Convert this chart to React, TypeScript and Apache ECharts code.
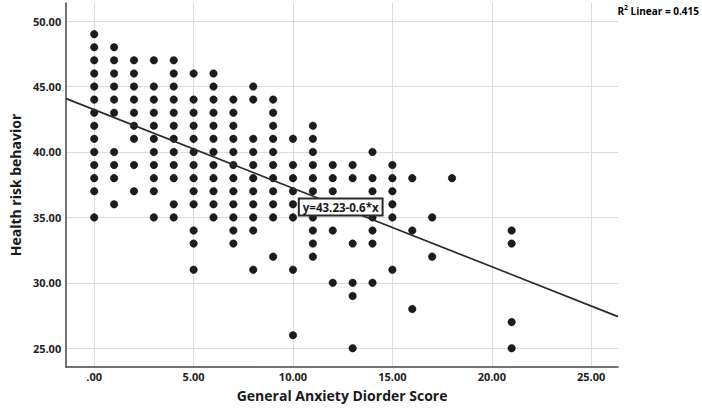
import React, { useEffect, useRef } from "react";
import * as echarts from "echarts";

// GAD score (x) -> list of Health risk behavior values (y) observed at that score
const gadScores = [0, 1, 2, 3, 4, 5, 6, 7, 8, 9, 10, 11, 12, 13, 14, 15, 16, 17, 18, 21];
const hrb0 = [49, 48, 47, 46, 45, 44, 43, 42, 41, 40, 39, 38, 37, 35];
const hrb1 = [48, 47, 46, 45, 44, 43, 40, 39, 38, 36];
const hrb2 = [47, 46, 45, 44, 43, 42, 41, 39, 37];
const hrb3 = [47, 45, 44, 43, 42, 41, 40, 39, 38, 37, 35];
const hrb4 = [47, 46, 45, 44, 43, 42, 41, 40, 39, 38, 36, 35];
const hrb5 = [46, 44, 43, 42, 41, 40, 39, 38, 37, 36, 34, 33, 31];
const hrb6 = [46, 45, 44, 43, 42, 41, 40, 39, 38, 37, 36, 35];
const hrb7 = [44, 43, 42, 41, 40, 39, 38, 37, 36, 35, 34, 33];
const hrb8 = [45, 44, 41, 40, 39, 38, 37, 36, 35, 34, 31];
const hrb9 = [44, 43, 42, 41, 40, 39, 38, 37, 36, 35, 32];
const hrb10 = [41, 39, 38, 37, 36, 35, 31, 26];
const hrb11 = [42, 41, 40, 39, 38, 37, 36, 35, 34, 33, 32];
const hrb12 = [39, 38, 37, 34, 30];
const hrb13 = [39, 38, 33, 30, 29, 25];
const hrb14 = [40, 38, 37, 35, 34, 33, 30];
const hrb15 = [39, 38, 37, 36, 35, 31];
const hrb16 = [38, 34, 28];
const hrb17 = [35, 32];
const hrb18 = [38];
const hrb21 = [34, 33, 27, 25];
const hrbByScore = [hrb0, hrb1, hrb2, hrb3, hrb4, hrb5, hrb6, hrb7, hrb8, hrb9, hrb10,
  hrb11, hrb12, hrb13, hrb14, hrb15, hrb16, hrb17, hrb18, hrb21];

const xTicks = [0, 5, 10, 15, 20, 25];
const yTicks = [25, 30, 35, 40, 45, 50];
const intercept = 43.23;
const slope = -0.6;
const rSquared = 0.415;
const xMin = -1.41;
const xMax = 26.35;
const yMin = 23.57;
const yMax = 51.38;
const labelAtX = 12.4;

const FONT = "'Open Sans', 'DejaVu Sans', sans-serif";

export default function App() {
  const ref = useRef<HTMLDivElement>(null);
  useEffect(() => {
    document.body.style.margin = "0";
    const chart = echarts.init(ref.current!, null, { renderer: "svg" });
    const points: number[][] = [];
    gadScores.forEach((x, i) => hrbByScore[i].forEach((y) => points.push([x, y])));
    const fit = (x: number) => intercept + slope * x;
    const fmt = (v: number) => (v === 0 ? ".00" : Number(v).toFixed(2));
    chart.setOption({
      animation: false,
      backgroundColor: "#ffffff",
      grid: { left: 59, right: 84, top: 3, bottom: 44 },
      xAxis: {
        type: "value",
        min: xMin,
        max: xMax,
        name: "General Anxiety Diorder Score",
        nameLocation: "middle",
        nameGap: 21,
        nameTextStyle: { fontFamily: FONT, fontWeight: "bold", fontSize: 14, color: "#1a1a1a" },
        axisLine: { show: true, onZero: false, lineStyle: { color: "#444", width: 1.5 } },
        axisTick: { show: false, customValues: xTicks },
        axisLabel: {
          customValues: xTicks,
          formatter: fmt,
          margin: 4,
          fontFamily: FONT,
          fontWeight: "bold",
          fontSize: 11,
          color: "#222",
        },
        splitLine: { show: true, lineStyle: { color: "#dcdcdc", width: 1 } },
      },
      yAxis: {
        type: "value",
        min: yMin,
        max: yMax,
        name: "Health risk behavior",
        nameLocation: "middle",
        nameGap: 38,
        nameTextStyle: { fontFamily: FONT, fontWeight: "bold", fontSize: 14, color: "#1a1a1a" },
        axisLine: { show: true, onZero: false, lineStyle: { color: "#444", width: 1.5 } },
        axisTick: { show: false, customValues: yTicks },
        axisLabel: {
          customValues: yTicks,
          formatter: fmt,
          margin: 5,
          fontFamily: FONT,
          fontWeight: "bold",
          fontSize: 11,
          color: "#222",
        },
        splitLine: { show: true, lineStyle: { color: "#dcdcdc", width: 1 } },
      },
      graphic: [
        {
          type: "text",
          right: 3,
          top: 4,
          style: {
            text: "{b|R}{s|2}{b| Linear = " + rSquared.toFixed(3) + "}",
            rich: {
              b: { fontFamily: FONT, fontWeight: "bold", fontSize: 10, color: "#222", verticalAlign: "bottom" },
              s: { fontFamily: FONT, fontWeight: "bold", fontSize: 7, color: "#222", padding: [0, 0, 5, 0] },
            },
          },
        },
      ],
      series: [
        {
          type: "scatter",
          data: points,
          symbolSize: 7.5,
          itemStyle: { color: "#1c1c1c", borderColor: "#000", borderWidth: 0.5, opacity: 1 },
          z: 2,
        },
        {
          type: "line",
          data: [[xMin, fit(xMin)], [xMax, fit(xMax)]],
          symbol: "none",
          lineStyle: { color: "#2a2a2a", width: 1.7 },
          z: 3,
          markPoint: {
            symbol: "rect",
            symbolSize: 0,
            data: [{ coord: [labelAtX, fit(labelAtX)] }],
            label: {
              show: true,
              position: "inside",
              formatter: "y=" + intercept.toFixed(2) + "-" + Math.abs(slope) + "*x",
              fontFamily: FONT,
              fontWeight: "bold",
              fontSize: 11.5,
              color: "#1a1a1a",
              backgroundColor: "#ffffff",
              borderColor: "#2a2a2a",
              borderWidth: 2,
              padding: [2, 3, 1, 3],
            },
            z: 10,
          },
        },
      ],
    });
    return () => chart.dispose();
  }, []);
  return <div ref={ref} style={{ width: 702, height: 411 }} />;
}
